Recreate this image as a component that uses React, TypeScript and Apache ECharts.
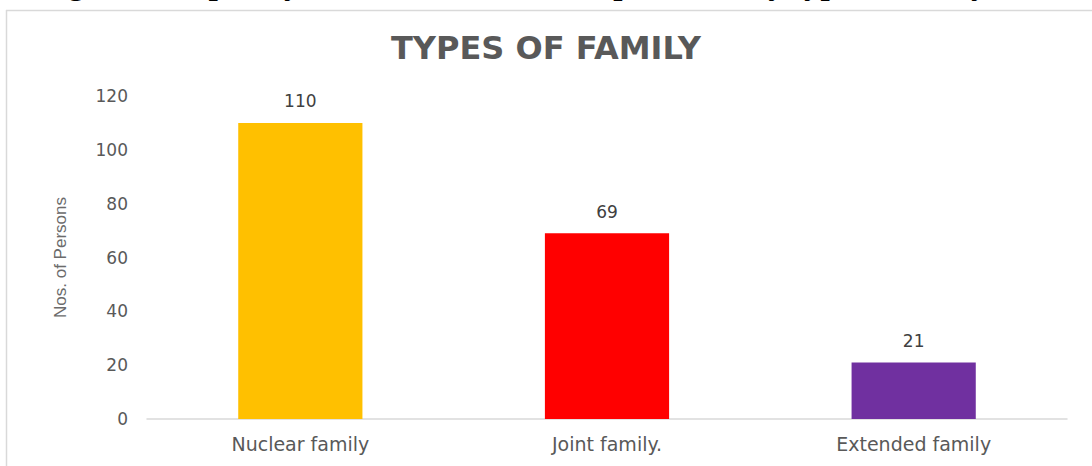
import React, { useEffect, useRef } from "react";
import * as echarts from "echarts";

const categories = ["Nuclear family", "Joint family.", "Extended family"];
const persons = [110, 69, 21];
const barColors = ["#FFC000", "#FF0000", "#7030A0"];
const yTicks = { min: 0, max: 120, interval: 20 };
const chartTitle = "TYPES OF FAMILY";
const yAxisName = "Nos. of Persons";
const caption = "Figure: Frequency distribution of the respondents by type of family";

export default function App() {
  const ref = useRef<HTMLDivElement>(null);
  useEffect(() => {
    if (!ref.current) return;
    const chart = echarts.init(ref.current, undefined, { renderer: "svg" });
    chart.setOption({
      animation: false,
      backgroundColor: "#ffffff",
      title: {
        text: chartTitle,
        left: "center",
        top: 27,
        textStyle: {
          fontFamily: "DejaVu Sans",
          fontWeight: "bold",
          fontSize: 32,
          color: "#595959",
        },
      },
      graphic: [
        {
          type: "text",
          x: 513,
          y: -17,
          style: {
            text: caption,
            fontFamily: "Liberation Serif",
            fontWeight: "bold",
            fontSize: 33,
            fill: "#000000",
            textAlign: "center",
            textVerticalAlign: "middle",
          },
        },
        {
          type: "line",
          shape: { x1: 6, y1: 10.5, x2: 1092, y2: 10.5 },
          style: { stroke: "#d9d9d9", lineWidth: 1.5 },
        },
        {
          type: "line",
          shape: { x1: 6.5, y1: 10, x2: 6.5, y2: 466 },
          style: { stroke: "#d9d9d9", lineWidth: 1.5 },
        },
      ],
      grid: { left: 147, right: 25, top: 96, bottom: 47 },
      xAxis: {
        type: "category",
        data: categories,
        axisTick: { show: false },
        axisLine: { lineStyle: { color: "#d9d9d9", width: 1.5 } },
        axisLabel: {
          margin: 15,
          fontFamily: "DejaVu Sans",
          fontSize: 19,
          color: "#595959",
        },
      },
      yAxis: {
        type: "value",
        min: yTicks.min,
        max: yTicks.max,
        interval: yTicks.interval,
        name: yAxisName,
        nameLocation: "middle",
        nameRotate: 90,
        nameGap: 78,
        nameTextStyle: {
          fontFamily: "Liberation Sans",
          fontSize: 17,
          color: "#6b6b6b",
        },
        splitLine: { show: false },
        axisLine: { show: false },
        axisTick: { show: false },
        axisLabel: {
          margin: 19,
          fontFamily: "DejaVu Sans",
          fontSize: 17,
          color: "#595959",
        },
      },
      series: [
        {
          type: "bar",
          barWidth: "40.5%",
          data: persons.map((v, i) => ({ value: v, itemStyle: { color: barColors[i] } })),
          label: {
            show: true,
            position: "top",
            distance: 13,
            fontFamily: "DejaVu Sans",
            fontSize: 17,
            color: "#404040",
          },
        },
      ],
    });
    return () => chart.dispose();
  }, []);
  return (
    <div
      ref={ref}
      style={{ position: "fixed", left: 0, top: 0, width: 1092, height: 466 }}
    />
  );
}
